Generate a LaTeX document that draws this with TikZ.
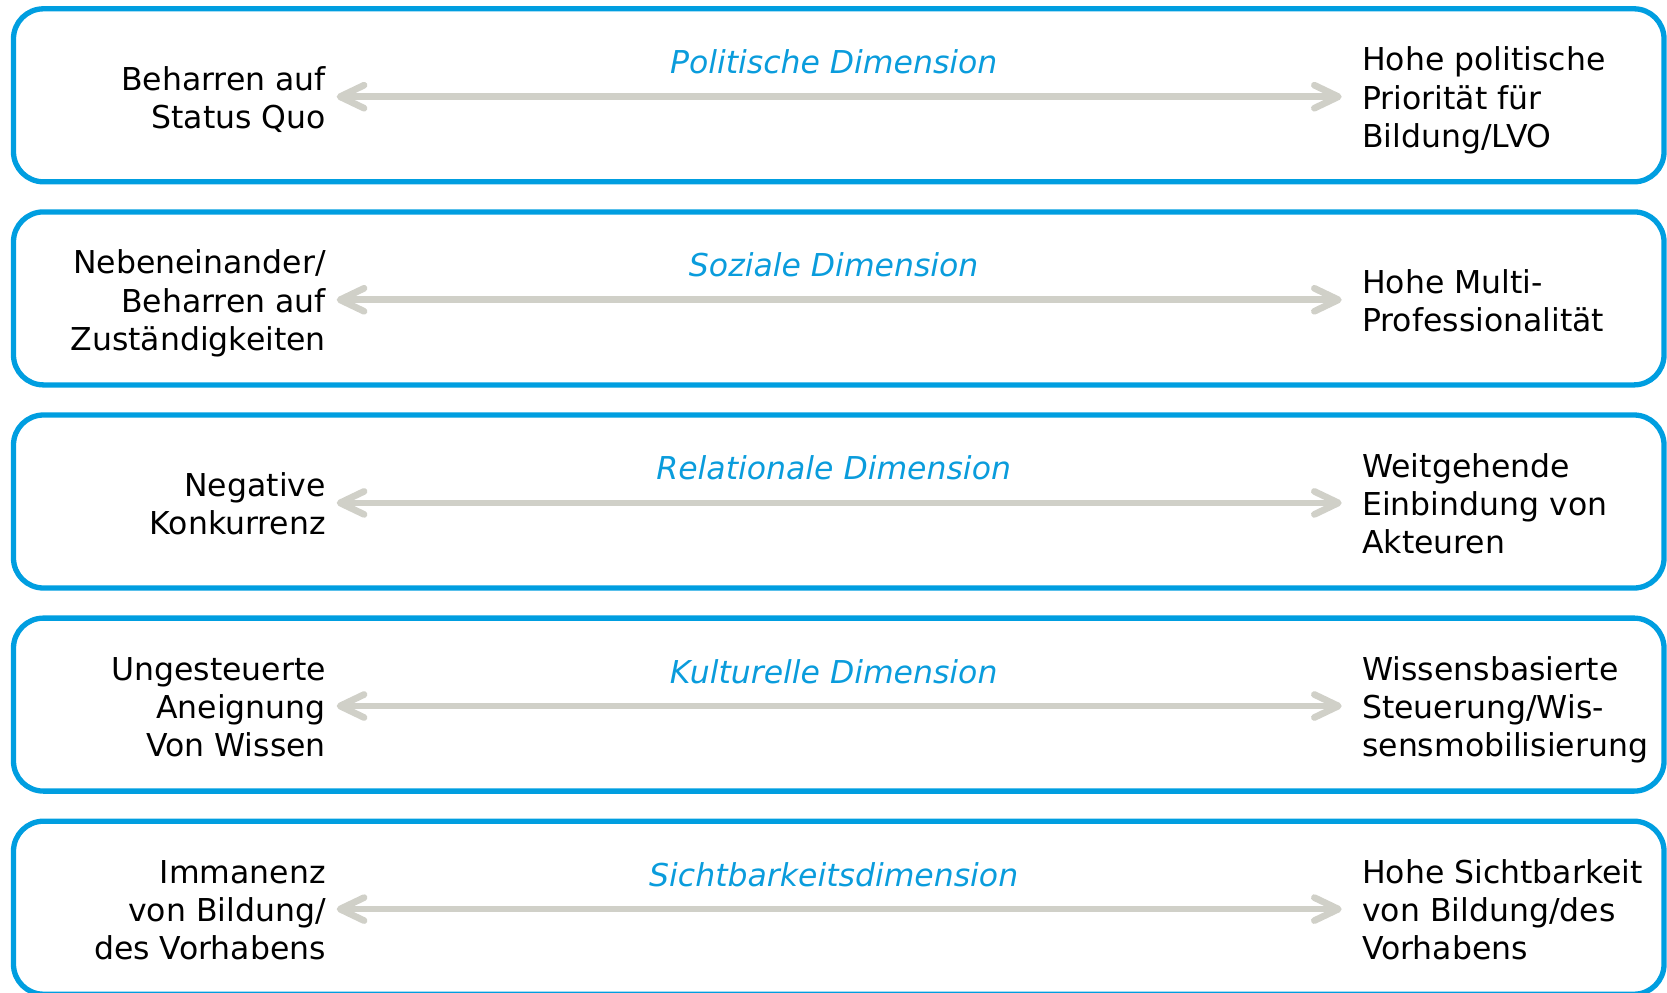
\documentclass[tikz,border=0pt]{standalone}
\usepackage{fontspec}
\setmainfont{DejaVu Sans}
\usetikzlibrary{arrows.meta}
\definecolor{frameblue}{HTML}{009EE0}
\definecolor{titleblue}{HTML}{0A9CDC}
\definecolor{arrowgray}{HTML}{D0D0C8}
\tikzset{
  dimbox/.style={draw=frameblue, line width=5.3bp, rounded corners=30bp,
    minimum width=1650.5bp, minimum height=173bp, inner sep=0pt},
  lefttext/.style={anchor=east, align=right, inner sep=0pt,
    font=\fontsize{31.5bp}{38.3bp}\selectfont},
  righttext/.style={anchor=west, align=left, inner sep=0pt,
    font=\fontsize{31.5bp}{38.3bp}\selectfont},
  dimtitle/.style={anchor=base, inner sep=0pt, text=titleblue,
    font=\fontsize{31.5bp}{38.3bp}\selectfont\itshape},
  barb/.tip={Straight Barb[length=24bp,width=23bp,round]},
  dimarrow/.style={draw=arrowgray, line width=6.7bp, barb-barb}
}
\begin{document}
\begin{tikzpicture}[x=1bp,y=-1bp]
\useasboundingbox (0,0) rectangle (1667,992);
\clip (0,0) rectangle (1667,992);
% row 1
\node[dimbox] (box1) at (838.75,95.3) {};
\node[dimtitle] (t1) at (833.7,73.7) {Politische Dimension};
\node[lefttext] (l1) at (326,101.5) {\strut Beharren auf\\\strut Status Quo};
\node[righttext] (r1) at (1362,101.5) {\strut Hohe politische\\\strut Priorität für\\\strut Bildung/LVO};
\coordinate (a1) at (336.7,96.7);
\coordinate (b1) at (1341.7,96.7);
\draw[dimarrow] (a1) -- (b1);
% row 2
\node[dimbox] (box2) at (838.75,298.4) {};
\node[dimtitle] (t2) at (833.7,276.8) {Soziale Dimension};
\node[lefttext] (l2) at (326,304.6) {\strut Nebeneinander/\\\strut Beharren auf\\\strut Zuständigkeiten};
\node[righttext] (r2) at (1362,304.6) {\strut Hohe Multi-\\\strut Professionalität};
\coordinate (a2) at (336.7,299.8);
\coordinate (b2) at (1341.7,299.8);
\draw[dimarrow] (a2) -- (b2);
% row 3
\node[dimbox] (box3) at (838.75,501.5) {};
\node[dimtitle] (t3) at (833.7,479.9) {Relationale Dimension};
\node[lefttext] (l3) at (326,507.7) {\strut Negative\\\strut Konkurrenz};
\node[righttext] (r3) at (1362,507.7) {\strut Weitgehende\\\strut Einbindung von\\\strut Akteuren};
\coordinate (a3) at (336.7,502.9);
\coordinate (b3) at (1341.7,502.9);
\draw[dimarrow] (a3) -- (b3);
% row 4
\node[dimbox] (box4) at (838.75,704.6) {};
\node[dimtitle] (t4) at (833.7,683.0) {Kulturelle Dimension};
\node[lefttext] (l4) at (326,710.8) {\strut Ungesteuerte\\\strut Aneignung\\\strut Von Wissen};
\node[righttext] (r4) at (1362,710.8) {\strut Wissensbasierte\\\strut Steuerung/Wis-\\\strut sensmobilisierung};
\coordinate (a4) at (336.7,706.0);
\coordinate (b4) at (1341.7,706.0);
\draw[dimarrow] (a4) -- (b4);
% row 5
\node[dimbox] (box5) at (838.75,907.7) {};
\node[dimtitle] (t5) at (833.7,886.1) {Sichtbarkeitsdimension};
\node[lefttext] (l5) at (326,913.9) {\strut Immanenz\\\strut von Bildung/\\\strut des Vorhabens};
\node[righttext] (r5) at (1362,913.9) {\strut Hohe Sichtbarkeit\\\strut von Bildung/des\\\strut Vorhabens};
\coordinate (a5) at (336.7,909.1);
\coordinate (b5) at (1341.7,909.1);
\draw[dimarrow] (a5) -- (b5);
\end{tikzpicture}
\end{document}
